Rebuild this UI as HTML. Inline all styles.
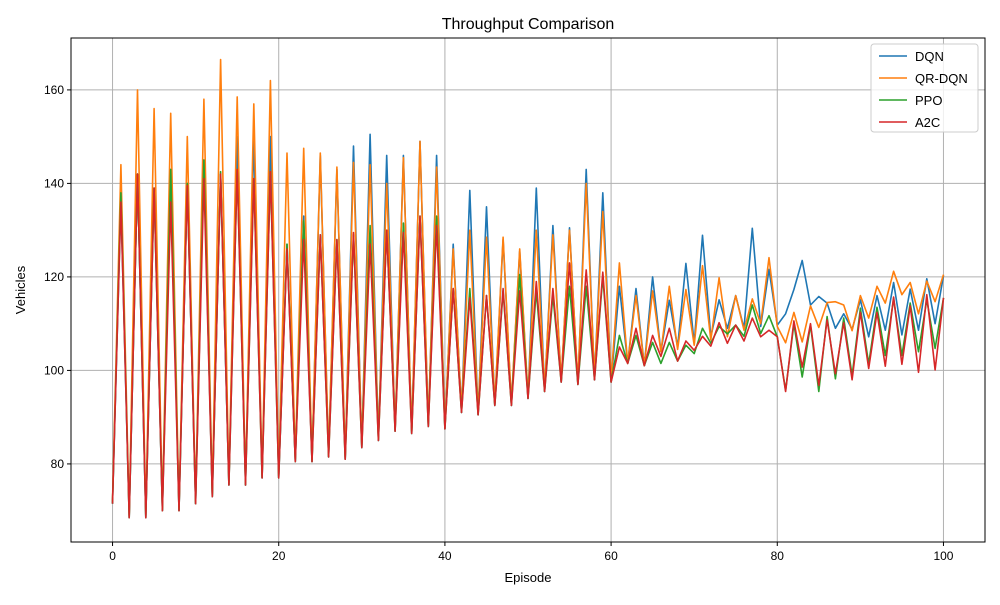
<!DOCTYPE html>
<html><head><meta charset="utf-8"><style>
body{margin:0;background:#fff}
svg text{font-family:"Liberation Sans","DejaVu Sans",sans-serif;fill:#000}
</style></head><body>
<svg id="chart" width="1000" height="600" viewBox="0 0 1000 600" xmlns="http://www.w3.org/2000/svg">
<rect width="1000" height="600" fill="#fff"/>
<g id="grid"></g>
<g id="series"></g>
<rect x="71" y="38" width="914" height="504" fill="none" stroke="#000" stroke-width="1"/>
<g id="ticks"></g>
<text x="528" y="29" font-size="16" text-anchor="middle">Throughput Comparison</text>
<text x="528" y="582" font-size="13" text-anchor="middle">Episode</text>
<text x="25" y="290" font-size="13" text-anchor="middle" transform="rotate(-90 25 290)">Vehicles</text>
<g id="legend"></g>
</svg>
<script>
const xTicks=[0,20,40,60,80,100];
const yTicks=[80,100,120,140,160];
const seriesNames=["DQN","QR-DQN","PPO","A2C"];
const seriesColors=["#1f77b4","#ff7f0e","#2ca02c","#d62728"];
const lows=[71.5,68.5,68.5,70,70,71.5,73,75.5,75.5,77,77,80.5,80.5,81.5,81,83.5,85,87,86.5,88,87.5,91,90.5,92.5,92.5,94,95.5,97.5,97,98,97.5];
const dqnHigh=[136,142,139,143,140,145,142,150,150,150,127,133,146,143,148,150.5,146,146,149,146,127,138.5,135,128,125.5,139,131,130.5,143,138];
const qrHigh=[144,160,156,155,150,158,166.5,158.5,157,162,146.5,147.5,146.5,143.5,144.5,144,140,145.5,149,143.5,126,130,128.5,128.5,126,130,129,130,140,134];
const ppoHigh=[138,142,139,143,140,145,142.5,143,141,142.5,127,132,129,128,129,131,130,131.5,133,133,117.5,117.5,116,117,120.5,117,116,118,118,120];
const a2cHigh=[136,142,139,136,139.5,141,142,143,141,142.5,126,128,129,128,129.5,127,130,129.5,133,131,117.5,115.5,116,117.5,117,119,117.5,123,121.5,121];
const dqnTail=[118,101.5,117.5,101,120,104,115,105,122.9,105.8,128.9,107.2,115.1,109,116,109,130.4,109.4,121.6,109.7,112.1,117.3,123.5,114,115.8,114.4,109,112.1,108.8,115.1,107.2,116,108.6,118.8,107.6,117.4,108.6,119.6,110,120.3];
const qrTail=[123,101.5,116,101,117,104,118,104.5,117.3,105.4,122.4,106.5,119.8,107.2,116,108.6,115.3,110,124.1,109.4,105.9,112.4,106.1,113.8,109.2,114.5,114.7,114,108.5,116,111.2,118,114.4,121.2,116.2,118.8,112.1,119.1,114.7,120.5];
const ppoTail=[107.5,101.5,107.5,101,106,101.5,106,102,105.4,103.6,109,105.8,109.4,107.8,109.7,107.3,114,107.9,111.7,107.2,95.7,110,98.6,109.7,95.5,111.5,98.2,111.2,98.9,113.3,101.4,113.5,103.2,115.3,103.2,114.4,104,115.1,104.7,115.5];
const a2cTail=[105,101.5,109,101,107.5,103,109,102,106.3,104.3,107.3,105.2,110.2,105.8,109.7,106.3,111.2,107.2,108.6,107.2,95.5,110.6,100.7,110,96.8,110.8,99.3,110.2,98,112.4,100.4,112.4,100.9,115.7,101.3,113.8,99.6,116.2,100.1,115.5];
const lowOffsets=[0,0.5,0,0];
const highs=[dqnHigh,qrHigh,ppoHigh,a2cHigh];
const tails=[dqnTail,qrTail,ppoTail,a2cTail];
const NS="http://www.w3.org/2000/svg";
const X0=71,X1=985,Y0=38,Y1=542;
function xs(v){return X0+(v+5)/110*(X1-X0);}
function ys(v){return Y1-(v-63.3)/(171.1-63.3)*(Y1-Y0);}
function mk(t,a,p){const e=document.createElementNS(NS,t);for(const k in a)e.setAttribute(k,a[k]);p.appendChild(e);return e;}
const grid=document.getElementById('grid'),ticks=document.getElementById('ticks');
xTicks.forEach(v=>{const x=xs(v);
 const g=mk('line',{x1:x,x2:x,y1:Y0,y2:Y1,stroke:'#b0b0b0','stroke-width':1},grid);
 
 const t=mk('line',{x1:x,x2:x,y1:Y1,y2:Y1+4,stroke:'#000'},ticks);
 
 const l=mk('text',{x:x,y:Y1+18,'font-size':12,'text-anchor':'middle'},ticks);l.textContent=v;
 });
yTicks.forEach(v=>{const y=ys(v);
 const g=mk('line',{x1:X0,x2:X1,y1:y,y2:y,stroke:'#b0b0b0','stroke-width':1},grid);
 
 const t=mk('line',{x1:X0-4,x2:X0,y1:y,y2:y,stroke:'#000'},ticks);
 
 const l=mk('text',{x:X0-7,y:y+4,'font-size':12,'text-anchor':'end'},ticks);l.textContent=v;
 });
const sg=document.getElementById('series');
seriesNames.forEach((n,i)=>{
 const vals=[];
 for(let e=0;e<=60;e++){vals.push(e%2===0?lows[e/2]+lowOffsets[i]:highs[i][(e-1)/2]);}
 tails[i].forEach(v=>vals.push(v));
 const pts=vals.map((v,e)=>xs(e).toFixed(1)+','+ys(v).toFixed(1)).join(' ');
 const p=mk('polyline',{points:pts,fill:'none',stroke:seriesColors[i],'stroke-width':1.6,'stroke-linejoin':'round'},sg);
 
});
const lg=document.getElementById('legend');
const box=mk('rect',{x:871,y:44,width:107,height:88,rx:3,fill:'#fff','fill-opacity':0.8,stroke:'#ccc'},lg);

seriesNames.forEach((n,i)=>{const y=56+i*22;
 const l=mk('line',{x1:879,x2:907,y1:y,y2:y,stroke:seriesColors[i],'stroke-width':1.6},lg);
 
 const t=mk('text',{x:915,y:y+5,'font-size':13},lg);t.textContent=n;
 });
</script>
</body></html>
